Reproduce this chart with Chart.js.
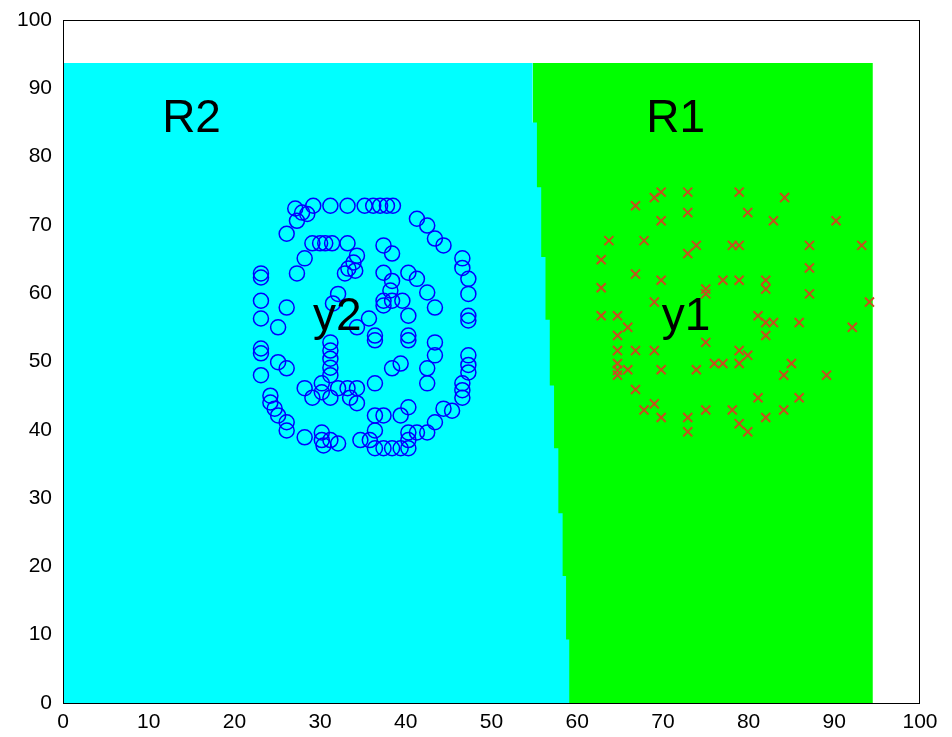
<!DOCTYPE html>
<html>
<head>
<meta charset="utf-8">
<script src="https://cdn.jsdelivr.net/npm/chart.js@4/dist/chart.umd.min.js"></script>
<style>
  html, body { margin: 0; padding: 0; background: #fff; }
  #wrap { width: 952px; height: 737px; }
</style>
</head>
<body>
<div id="wrap"><canvas id="chart" width="952" height="737"></canvas></div>
<script>
// --- data ---

// class y2 (blue circles)
const y2X = [27.1, 27.9, 28.5, 27.3, 26.1, 29.2, 31.2, 33.2, 35.2, 36.2, 37.0, 37.8, 38.5,
  41.3, 42.5, 43.4, 44.4, 46.6, 46.6, 47.3, 47.3, 47.3, 47.3, 47.3, 47.3, 47.3,
  46.6, 46.6, 46.6, 45.4, 44.4, 43.4, 42.5, 41.3, 40.3, 40.3, 40.3, 39.4, 38.4, 37.4, 36.4,
  35.8, 36.4, 34.7, 32.1, 31.2, 30.4, 30.2, 30.2, 28.2, 26.1, 26.1, 25.1, 24.7, 24.2, 24.2,
  23.1, 23.1, 23.1, 23.1, 23.1, 23.1, 23.1,
  29.1, 30.0, 30.6, 31.4, 33.2, 34.3, 28.2, 27.3, 33.9, 33.3, 32.9, 34.1, 37.4, 38.4, 37.4,
  38.4, 40.3, 41.3, 42.5, 43.4, 43.4, 43.4, 42.5, 42.5, 26.1, 25.1, 25.1, 26.1, 28.2, 29.1,
  30.2, 30.2, 31.2, 32.1, 33.2, 33.5, 34.3, 34.3, 36.4, 36.4, 37.4, 39.4, 40.3,
  32.1, 31.5, 31.2, 31.2, 31.2, 31.2, 31.2, 38.2, 38.4, 37.4, 37.4, 39.6, 40.3, 35.7, 34.3,
  36.4, 36.4, 40.3, 40.3, 38.4, 39.4];
const y2Y = [72.4, 71.8, 71.6, 70.6, 68.7, 72.8, 72.8, 72.8, 72.8, 72.8, 72.8, 72.8, 72.8,
  70.9, 69.9, 68.0, 67.0, 65.1, 63.7, 62.1, 59.9, 56.7, 56.0, 50.9, 49.5, 48.4,
  46.8, 45.8, 44.7, 42.8, 43.1, 41.1, 39.6, 39.6, 39.6, 38.5, 37.3, 37.3, 37.3, 37.3, 37.3,
  38.5, 39.9, 38.5, 38.0, 38.5, 37.7, 38.5, 39.6, 38.9, 39.9, 41.1, 42.1, 43.1, 44.0, 45.0,
  48.0, 51.2, 51.9, 56.3, 58.9, 62.3, 62.9,
  67.3, 67.3, 67.3, 67.3, 67.3, 65.5, 65.1, 62.9, 64.5, 63.6, 62.9, 63.3, 67.0, 65.8, 63.0,
  61.8, 63.0, 62.1, 60.1, 57.9, 52.8, 50.9, 49.0, 46.8, 57.9, 55.0, 49.9, 49.0, 46.1, 44.7,
  46.8, 45.5, 44.7, 46.1, 46.1, 44.7, 46.1, 43.9, 46.8, 42.1, 42.1, 42.1, 43.3,
  59.9, 58.5, 52.8, 51.6, 50.4, 49.1, 48.0, 60.4, 58.9, 58.9, 58.2, 58.9, 56.7, 56.3, 55.0,
  53.8, 53.1, 53.8, 53.1, 49.0, 49.7];

// class y1 (red crosses)
const y1X = [69.8, 69.0, 72.9, 78.9, 84.2, 66.8, 72.9, 79.9, 69.8, 82.9, 90.2, 63.7, 67.8,
  62.8, 73.9, 72.9, 78.1, 78.9, 87.1, 93.2, 87.1, 66.8, 69.8, 77.0, 78.9, 82.0, 82.0, 62.8,
  75.0, 75.0, 87.1, 94.1, 69.0, 62.8, 64.7, 65.9, 64.7, 81.1, 82.0, 82.9, 85.9, 92.1, 82.0,
  75.0, 64.7, 66.8, 69.0, 78.9, 79.9, 64.7, 64.7, 65.9, 69.8, 73.9, 76.0, 77.0, 78.9, 85.0,
  84.1, 89.1, 64.7, 66.8, 81.1, 85.9, 67.8, 69.0, 75.0, 78.1, 84.1, 69.8, 72.9, 72.9, 78.9,
  79.9, 82.0];
const y1Y = [74.8, 74.0, 74.8, 74.8, 74.0, 72.8, 71.8, 71.8, 70.6, 70.6, 70.6, 67.7, 67.7,
  64.9, 67.0, 65.8, 67.0, 67.0, 67.0, 67.0, 63.7, 62.8, 61.9, 61.9, 61.9, 61.9, 60.6, 60.8,
  60.6, 59.9, 59.9, 58.7, 58.7, 56.7, 56.7, 55.0, 53.8, 56.7, 55.7, 55.7, 55.7, 55.0, 53.8,
  52.8, 51.6, 51.6, 51.6, 51.6, 50.9, 49.7, 48.7, 48.8, 48.8, 48.8, 49.7, 49.7, 49.7, 49.7,
  48.0, 48.0, 48.0, 45.9, 44.7, 44.7, 42.9, 43.8, 42.9, 42.9, 42.9, 41.8, 41.8, 39.7, 40.9,
  39.7, 41.8];

// decision regions: staircase edge between R2 (left) and R1 (right)
const gridTop = 93.7;
const gridRight = 94.5;
const edgeX = [54.8, 55.3, 55.8, 56.3, 56.8, 57.3, 57.8, 58.3, 58.7, 59.1];
const edgeStepY = [85.0, 75.5, 65.3, 56.1, 46.5, 37.3, 27.8, 18.6, 9.3, 0];

// text labels
const labelText = ['R2', 'R1', 'y2', 'y1'];
const labelX = [15.0, 71.5, 32.0, 72.7];
const labelY = [85.5, 85.5, 56.4, 56.4];

const xTicks = [0, 10, 20, 30, 40, 50, 60, 70, 80, 90, 100];
const yTicks = [0, 10, 20, 30, 40, 50, 60, 70, 80, 90, 100];

// --- build datasets ---
const toPts = (xs, ys) => xs.map((v, i) => ({ x: v, y: ys[i] }));

// left region outline (filled down to y = 0)
const r2Outline = [{ x: 0, y: gridTop }];
let prevY = gridTop;
edgeX.forEach((ex, i) => {
    r2Outline.push({ x: ex, y: prevY });
    r2Outline.push({ x: ex, y: edgeStepY[i] });
    prevY = edgeStepY[i];
});
const r1Outline = [{ x: edgeX[0], y: gridTop }, { x: gridRight, y: gridTop }, { x: gridRight, y: 0 }];

const FONT = '"Liberation Sans", Arial, sans-serif';

const overlay = {
    id: 'overlay',
    afterDatasetsDraw(chart) {
        const { ctx, chartArea: a, scales: { x, y } } = chart;
        ctx.save();
        ctx.strokeStyle = '#000';
        ctx.lineWidth = 1;
        ctx.strokeRect(a.left + 0.5, a.top + 0.5, a.right - a.left - 1, a.bottom - a.top);
        ctx.fillStyle = '#000';
        ctx.font = '46px ' + FONT;
        ctx.textAlign = 'center';
        ctx.textBaseline = 'middle';
        labelText.forEach((t, i) => {
            ctx.fillText(t, x.getPixelForValue(labelX[i]), y.getPixelForValue(labelY[i]));
        });
        ctx.restore();
    }
};

new Chart(document.getElementById('chart'), {
    type: 'scatter',
    data: {
        datasets: [
            {
                label: 'y2',
                data: toPts(y2X, y2Y),
                pointStyle: 'circle',
                pointRadius: 7.5,
                borderColor: '#0000ff',
                backgroundColor: 'rgba(0,0,0,0)',
                borderWidth: 1.5,
                order: 0
            },
            {
                label: 'y1',
                data: toPts(y1X, y1Y),
                pointStyle: 'crossRot',
                pointRadius: 6.4,
                borderColor: '#c4501e',
                borderWidth: 2,
                order: 0
            },
            {
                type: 'line',
                label: 'R2',
                data: r2Outline,
                fill: 'origin',
                backgroundColor: '#00ffff',
                borderWidth: 0,
                pointRadius: 0,
                tension: 0,
                order: 1
            },
            {
                type: 'line',
                label: 'R1',
                data: r1Outline,
                fill: 'origin',
                backgroundColor: '#00ff00',
                borderWidth: 0,
                pointRadius: 0,
                tension: 0,
                order: 2
            }
        ]
    },
    options: {
        responsive: false,
        animation: false,
        events: [],
        layout: { padding: { top: 20, right: 32, left: 0, bottom: 0 } },
        plugins: {
            legend: { display: false },
            tooltip: { enabled: false }
        },
        scales: {
            x: {
                type: 'linear',
                min: 0, max: 100,
                afterBuildTicks: s => { s.ticks = xTicks.map(v => ({ value: v })); },
                afterFit: s => { s.height = 34; },
                ticks: { color: '#000', font: { family: FONT, size: 21 }, padding: 7, maxRotation: 0 },
                grid: { display: false, drawTicks: false },
                border: { display: false }
            },
            y: {
                type: 'linear',
                min: 0, max: 100,
                afterBuildTicks: s => { s.ticks = yTicks.map(v => ({ value: v })); },
                afterFit: s => { s.width = 63; s.paddingTop = 0; s.paddingBottom = 0; },
                ticks: { color: '#000', font: { family: FONT, size: 21 }, padding: 11 },
                grid: { display: false, drawTicks: false },
                border: { display: false }
            }
        }
    },
    plugins: [overlay]
});
</script>
</body>
</html>
